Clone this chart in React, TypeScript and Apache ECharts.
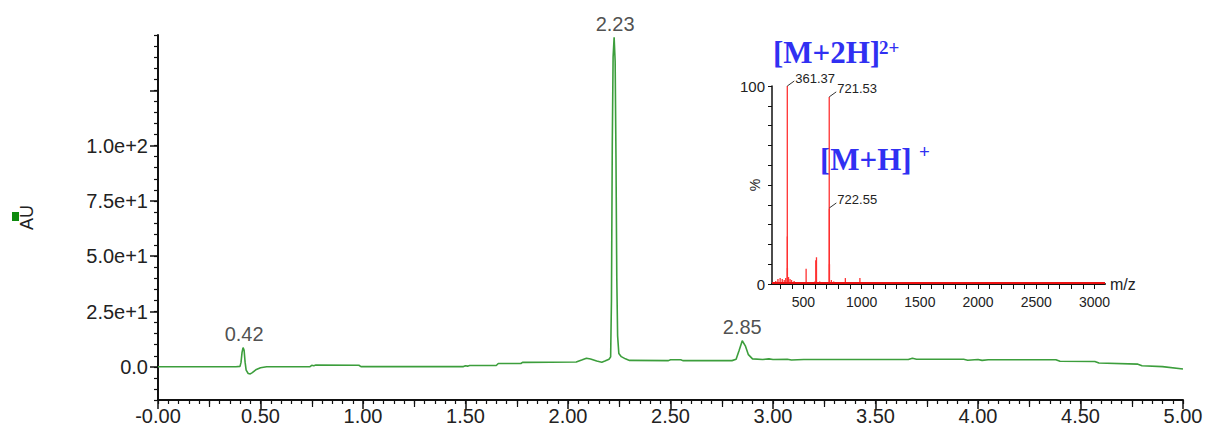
import React, { useEffect, useRef } from "react";
import * as echarts from "echarts";

// ---- Chromatogram (UV trace) ----
const rt = [
  0.0, 0.38, 0.4, 0.405, 0.41, 0.415, 0.42, 0.425, 0.43, 0.44, 0.45, 0.46, 0.48, 0.5, 0.53,
  0.74, 0.75, 0.76, 0.77, 0.98, 0.99, 1.49, 1.5, 1.51, 1.52, 1.65, 1.66, 1.77, 1.78, 1.79,
  2.04, 2.07, 2.09, 2.11, 2.14, 2.165, 2.18, 2.2, 2.208, 2.212, 2.216, 2.22, 2.225, 2.23,
  2.234, 2.238, 2.242, 2.248, 2.26, 2.28, 2.3, 2.49, 2.5, 2.55, 2.56, 2.8, 2.82, 2.835, 2.85,
  2.865, 2.88, 2.9, 2.95, 2.98, 3.0, 3.07, 3.09, 3.15, 3.66, 3.68, 3.7, 3.93, 3.95, 4.0,
  4.02, 4.05, 4.38, 4.4, 4.57, 4.59, 4.78, 4.8, 4.9, 5.0,
];
const au = [
  0, 0, 0.2, 2, 6.5, 8.7, 7.5, 2, -1.5, -3.0, -3.2, -2.6, -1.2, -0.4, 0,
  0, 0.7, 0.5, 0.8, 0.7, 0.1, 0.1, 0.5, 0.3, 0.6, 0.6, 1.5, 1.5, 2.1, 2.0,
  2.2, 3.2, 3.9, 3.5, 2.6, 2.1, 2.6, 3.4, 4.5, 30, 100, 140, 149, 138,
  95, 40, 14, 6, 4.6, 3.6, 2.9, 2.8, 3.2, 3.2, 2.8, 2.8, 3.4, 7.5, 11.8,
  9.5, 5.5, 3.6, 3.3, 3.6, 3.3, 3.4, 3.1, 3.3, 3.3, 3.9, 3.4, 3.4, 3.0, 3.3,
  2.9, 3.2, 3.2, 2.5, 2.4, 1.7, 1.2, 0.5, 0.1, -1.0,
];

// Peak annotations
const peakRt = [0.42, 2.23, 2.85];
const peakAu = [8.7, 149, 11.8];
const peakText = ["0.42", "2.23", "2.85"];

// Axis ticks / labels (main)
const xLabelValues = [0, 0.5, 1, 1.5, 2, 2.5, 3, 3.5, 4, 4.5, 5];
const xMidTickValues = [0.25, 0.75, 1.25, 1.75, 2.25, 2.75, 3.25, 3.75, 4.25, 4.75];
const yLabelValues = [0, 25, 50, 75, 100];
const yMajorTickValues = [0, 25, 50, 75, 100, 125];

// ---- Mass spectrum (inset) ----
const mz = [
  262, 281, 300, 318, 335, 348, 361.37, 361.87, 362.4, 372, 385, 398, 420, 445, 472, 498, 523,
  560, 598, 606, 612, 640, 700, 721.53, 722.55, 723.5, 740, 760, 800, 860, 985, 1050, 1570, 2000,
];
const intensity = [
  1.5, 2.5, 3, 2.5, 2, 3, 100, 24, 8, 3.5, 2.5, 2, 1.5, 1, 1, 0.8, 7.7,
  1, 1.2, 12, 13.5, 1.2, 1, 94.5, 38, 10, 2, 1.2, 0.8, 3, 3, 0.8, 1, 1,
];
const msLabelMz = [361.37, 721.53, 722.55];
const msLabelInt = [100, 94.5, 38.4];
const msLabelText = ["361.37", "721.53", "722.55"];
const msXLabelValues = [500, 1000, 1500, 2000, 2500, 3000];
const msXTickValues = Array.from({ length: 28 }, (_, i) => 300 + i * 100);
const msYLabelValues = [0, 100];

const FONT = "'Liberation Sans', Arial, sans-serif";
const SERIF = "'Liberation Serif', 'Times New Roman', serif";
const AXIS_COLOR = "#111";
const TEXT_COLOR = "#222";
const BLUE = "#3030f2";

export default function App() {
  const ref = useRef<HTMLDivElement>(null);

  useEffect(() => {
    if (!ref.current) return;
    const chart = echarts.init(ref.current, undefined, { renderer: "svg" });

    const chromData = rt.map((t, i) => [t, au[i]]);
    const peakData = peakRt.map((t, i) => [t, peakAu[i], peakText[i]]);
    const msData = mz.map((m, i) => [m, intensity[i]]);
    const msLabelData = msLabelMz.map((m, i) => [m, msLabelInt[i]]);

    const hidden = { show: false };

    const option: any = {
      animation: false,
      textStyle: { fontFamily: FONT },
      grid: [
        { left: 158, right: 25, top: 35, bottom: 32, outerBoundsMode: "none" },
        { left: 772, right: 103, top: 86, bottom: 148, outerBoundsMode: "none" },
      ],
      xAxis: [
        {
          type: "value",
          gridIndex: 0,
          position: "bottom",
          min: 0,
          max: 5,
          interval: 0.05,
          axisLine: { show: true, onZero: false, lineStyle: { color: AXIS_COLOR, width: 2 } },
          axisTick: { show: true, length: 4, lineStyle: { color: AXIS_COLOR, width: 1.2 } },
          axisLabel: {
            customValues: xLabelValues,
            formatter: (v: number) => (v === 0 ? "-0.00" : v.toFixed(2)),
            color: TEXT_COLOR,
            fontSize: 20,
            margin: 6,
          },
          splitLine: hidden,
        },
        {
          type: "value",
          gridIndex: 0,
          position: "bottom",
          min: 0,
          max: 5,
          axisLine: { show: false, onZero: false },
          axisTick: { show: true, length: 7, customValues: xMidTickValues, lineStyle: { color: AXIS_COLOR, width: 1.2 } },
          axisLabel: hidden,
          splitLine: hidden,
        },
        {
          type: "value",
          gridIndex: 0,
          position: "bottom",
          min: 0,
          max: 5,
          axisLine: { show: false, onZero: false },
          axisTick: { show: true, length: 9, customValues: xLabelValues, lineStyle: { color: AXIS_COLOR, width: 1.5 } },
          axisLabel: hidden,
          splitLine: hidden,
        },
        {
          type: "value",
          gridIndex: 1,
          position: "bottom",
          min: 230,
          max: 3090,
          name: "m/z",
          nameLocation: "end",
          nameGap: 5,
          nameTextStyle: { color: TEXT_COLOR, fontSize: 16 },
          axisLine: { show: true, onZero: false, lineStyle: { color: AXIS_COLOR, width: 2 } },
          axisTick: { show: true, length: 5, customValues: msXTickValues, lineStyle: { color: AXIS_COLOR, width: 1 } },
          axisLabel: {
            customValues: msXLabelValues,
            formatter: (v: number) => String(v),
            color: TEXT_COLOR,
            fontSize: 14,
            margin: 11,
          },
          splitLine: hidden,
        },
      ],
      yAxis: [
        {
          type: "value",
          gridIndex: 0,
          position: "left",
          min: -15,
          max: 150,
          interval: 5,
          name: "AU",
          nameLocation: "middle",
          nameRotate: 90,
          nameGap: 122,
          nameMoveOverlap: false,
          nameTextStyle: { color: TEXT_COLOR, fontSize: 18 },
          axisLine: { show: true, onZero: false, lineStyle: { color: AXIS_COLOR, width: 2 } },
          axisTick: { show: true, length: 4, lineStyle: { color: AXIS_COLOR, width: 1.2 } },
          axisLabel: {
            customValues: yLabelValues,
            formatter: (v: number) => (v === 0 ? "0.0" : v.toExponential(1)),
            color: TEXT_COLOR,
            fontSize: 20,
            margin: 10,
          },
          splitLine: hidden,
        },
        {
          type: "value",
          gridIndex: 0,
          position: "left",
          min: -15,
          max: 150,
          axisLine: { show: false, onZero: false },
          axisTick: { show: true, length: 8, customValues: yMajorTickValues, lineStyle: { color: AXIS_COLOR, width: 1.5 } },
          axisLabel: hidden,
          splitLine: hidden,
        },
        {
          type: "value",
          gridIndex: 1,
          position: "left",
          min: 0,
          max: 100,
          interval: 10,
          name: "%",
          nameLocation: "middle",
          nameRotate: 90,
          nameGap: 10,
          nameMoveOverlap: false,
          nameTextStyle: { color: TEXT_COLOR, fontSize: 14 },
          axisLine: { show: true, onZero: false, lineStyle: { color: AXIS_COLOR, width: 1.5 } },
          axisTick: { show: true, length: 4, lineStyle: { color: AXIS_COLOR, width: 1 } },
          axisLabel: {
            customValues: msYLabelValues,
            color: TEXT_COLOR,
            fontSize: 15,
            margin: 7,
          },
          splitLine: hidden,
        },
      ],
      series: [
        {
          type: "line",
          xAxisIndex: 0,
          yAxisIndex: 0,
          data: chromData,
          showSymbol: false,
          symbol: "none",
          lineStyle: { color: "#3c9e3c", width: 1.6 },
          z: 3,
        },
        {
          type: "scatter",
          xAxisIndex: 0,
          yAxisIndex: 0,
          data: peakData,
          symbolSize: 1,
          itemStyle: { color: "rgba(0,0,0,0)" },
          label: {
            show: true,
            position: "top",
            distance: 3,
            formatter: (p: any) => p.data[2],
            color: TEXT_COLOR,
            fontSize: 20,
          },
          z: 4,
        },
        {
          type: "bar",
          xAxisIndex: 3,
          yAxisIndex: 2,
          data: msData,
          barWidth: 1.3,
          itemStyle: { color: "#ff3030" },
          markLine: {
            silent: true,
            symbol: "none",
            label: { show: false },
            lineStyle: { color: "#ee1111", width: 2, type: "solid" },
            data: [{ yAxis: 0.6 }],
          },
          z: 3,
        },
        {
          type: "custom",
          xAxisIndex: 3,
          yAxisIndex: 2,
          data: msLabelData,
          clip: false,
          renderItem: (params: any, api: any) => {
            const p = api.coord([api.value(0), api.value(1)]);
            return {
              type: "group",
              children: [
                {
                  type: "line",
                  shape: { x1: p[0], y1: p[1], x2: p[0] + 7, y2: p[1] - 5 },
                  style: { stroke: "#333", lineWidth: 1 },
                },
                {
                  type: "text",
                  x: p[0] + 8,
                  y: p[1] - 8,
                  style: {
                    text: msLabelText[params.dataIndex],
                    fill: TEXT_COLOR,
                    fontSize: 13,
                    fontFamily: FONT,
                    verticalAlign: "middle",
                    align: "left",
                  },
                },
              ],
            };
          },
          z: 5,
        },
      ],
      graphic: [
        { type: "rect", shape: { x: 12, y: 212, width: 7, height: 9 }, style: { fill: "#0e8a0e" } },
        {
          type: "text",
          x: 773,
          y: 52,
          style: { text: "[M+2H]", fontSize: 31, fontWeight: "bold", fontFamily: SERIF, fill: BLUE, verticalAlign: "middle", align: "left" },
        },
        {
          type: "text",
          x: 879,
          y: 47,
          style: { text: "2+", fontSize: 19, fontWeight: "bold", fontFamily: SERIF, fill: BLUE, verticalAlign: "middle", align: "left" },
        },
        {
          type: "text",
          x: 820,
          y: 159,
          style: { text: "[M+H]", fontSize: 31, fontWeight: "bold", fontFamily: SERIF, fill: BLUE, verticalAlign: "middle", align: "left" },
        },
        {
          type: "text",
          x: 919,
          y: 151,
          style: { text: "+", fontSize: 19, fontWeight: "bold", fontFamily: SERIF, fill: BLUE, verticalAlign: "middle", align: "left" },
        },
      ],
    };

    chart.setOption(option);
    return () => chart.dispose();
  }, []);

  return (
    <div
      ref={ref}
      style={{ position: "fixed", left: 0, top: 0, width: 1208, height: 432, background: "#fff" }}
    />
  );
}
